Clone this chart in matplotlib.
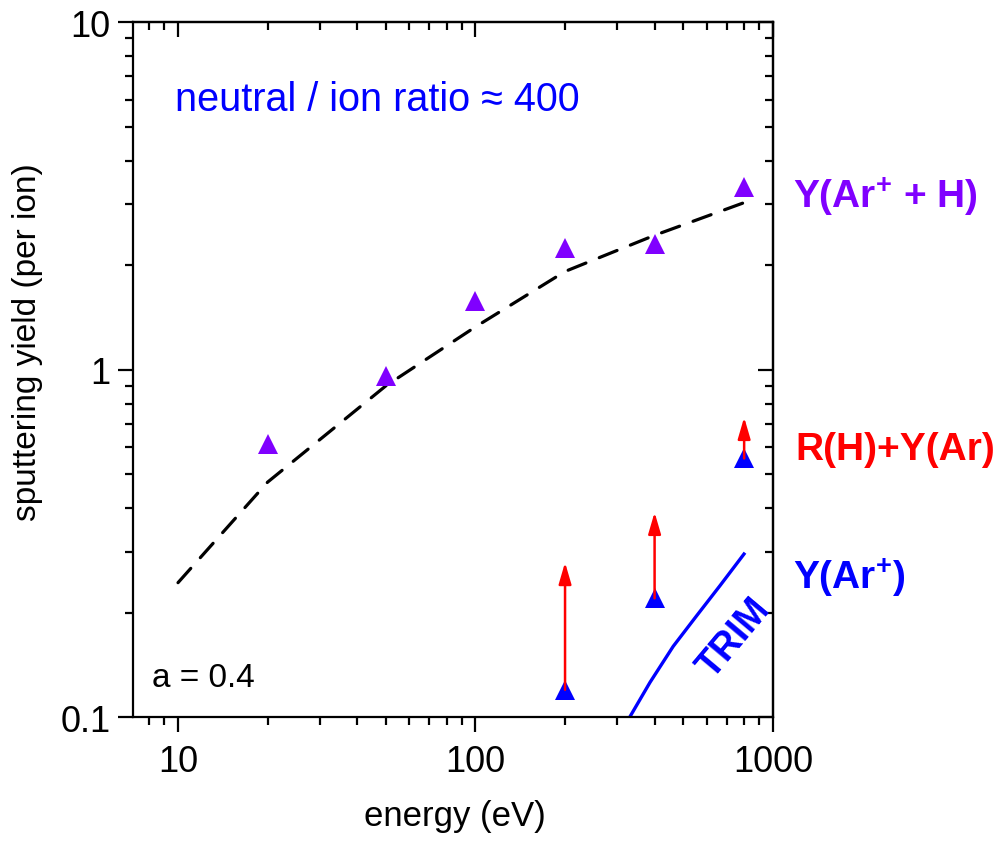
import numpy as np
import matplotlib.pyplot as plt
from matplotlib.ticker import LogLocator, NullFormatter, FuncFormatter

plt.rcParams['font.family'] = ['Liberation Sans', 'DejaVu Sans']
plt.rcParams['mathtext.fontset'] = 'custom'
plt.rcParams['mathtext.rm'] = 'Liberation Sans'
plt.rcParams['mathtext.bf'] = 'Liberation Sans:bold'

# measured yields (per ion)
energy = [20, 50, 100, 200, 400, 800]
yield_ar_h = [0.61, 0.96, 1.58, 2.25, 2.31, 3.35]

energy_ar = [200, 400, 800]
yield_ar = [0.12, 0.22, 0.556]
yield_rh_ar = [0.279, 0.389, 0.73]

# model curve, a = 0.4
model_e = [10, 20, 50, 100, 200, 400, 800]
model_y = [0.244, 0.475, 0.90, 1.33, 1.92, 2.44, 3.03]

# TRIM calculation for Ar+
trim_e = [332, 386, 462, 554, 663, 799]
trim_y = [0.101, 0.126, 0.160, 0.196, 0.239, 0.295]

PURPLE = '#8000ff'
BLUE = '#0000ff'
RED = '#ff0000'

fig = plt.figure(figsize=(10.01, 8.45), dpi=100)
ax = fig.add_axes([0.1329, 0.150, 0.6393, 0.8222])

ax.plot(model_e, model_y, color='black', linestyle=(0, (6.0, 4.5)), linewidth=2.3,
        dash_capstyle='round', zorder=2)
ax.plot(trim_e, trim_y, color=BLUE, linewidth=2.4, zorder=2)
ax.plot(energy, yield_ar_h, linestyle='none', marker='^', markersize=14,
        color=PURPLE, markeredgewidth=0, zorder=3)
ax.plot(energy_ar, yield_ar, linestyle='none', marker='^', markersize=14,
        color=BLUE, markeredgewidth=0, zorder=3)

for e, lo, hi in zip(energy_ar, yield_ar, yield_rh_ar):
    ax.annotate('', xy=(e, hi), xytext=(e, lo),
                arrowprops=dict(arrowstyle='-|>,head_length=1.3,head_width=0.38',
                                mutation_scale=10, color=RED, lw=1.8,
                                shrinkA=0, shrinkB=0),
                zorder=4)

ax.set_xscale('log')
ax.set_yscale('log')
ax.set_xlim(7.06, 1000)
ax.set_ylim(0.1, 10)

fmt = FuncFormatter(lambda v, p: f'{v:g}')
for axis in (ax.xaxis, ax.yaxis):
    axis.set_major_locator(LogLocator(base=10, numticks=10))
    axis.set_minor_locator(LogLocator(base=10, subs=np.arange(2, 10), numticks=10))
    axis.set_major_formatter(fmt)
    axis.set_minor_formatter(NullFormatter())

for s in ax.spines.values():
    s.set_linewidth(1.6)

ax.tick_params(which='both', width=1.6, labelsize=26, direction='out',
               top=False, right=False)
ax.tick_params(which='major', length=11, pad=5)
ax.tick_params(axis='x', which='major', pad=8)
ax.tick_params(which='minor', length=6)

# inward ticks on the top and right edges
for side in ('top', 'right'):
    sec = ax.secondary_xaxis('top') if side == 'top' else ax.secondary_yaxis('right')
    sax = sec.xaxis if side == 'top' else sec.yaxis
    sax.set_major_locator(LogLocator(base=10, numticks=10))
    sax.set_minor_locator(LogLocator(base=10, subs=np.arange(2, 10), numticks=10))
    sax.set_major_formatter(NullFormatter())
    sax.set_minor_formatter(NullFormatter())
    sec.tick_params(which='both', direction='in', width=1.6)
    sec.tick_params(which='major', length=11)
    sec.tick_params(which='minor', length=6)
    sec.spines[side].set_linewidth(1.6)

ax.set_xlabel('energy (eV)', fontsize=25)
ax.xaxis.set_label_coords(0.503, -0.118)
ax.set_ylabel('sputtering yield (per ion)', fontsize=24)
ax.yaxis.set_label_coords(-0.140, 0.542)

ax.text(0.065, 0.89, 'neutral / ion ratio \u2248 400', transform=ax.transAxes,
        fontsize=28.5, color=BLUE, ha='left', va='center')
ax.text(0.03, 0.057, 'a = 0.4', transform=ax.transAxes,
        fontsize=24, color='black', ha='left', va='center')
ax.text(0.94, 0.115, 'TRIM', transform=ax.transAxes, rotation=50,
        fontsize=27, fontweight='bold', color=BLUE, ha='center', va='center')

fig.text(0.792, 0.767, 'Y(Ar$^{\\mathbf{+}}$ + H)', fontsize=28, fontweight='bold',
         color=PURPLE, ha='left', va='center')
fig.text(0.795, 0.467, 'R(H)+Y(Ar)', fontsize=28, fontweight='bold',
         color=RED, ha='left', va='center')
fig.text(0.792, 0.316, 'Y(Ar$^{\\mathbf{+}}$)', fontsize=28, fontweight='bold',
         color=BLUE, ha='left', va='center')

fig.savefig('out.png', dpi=100)
